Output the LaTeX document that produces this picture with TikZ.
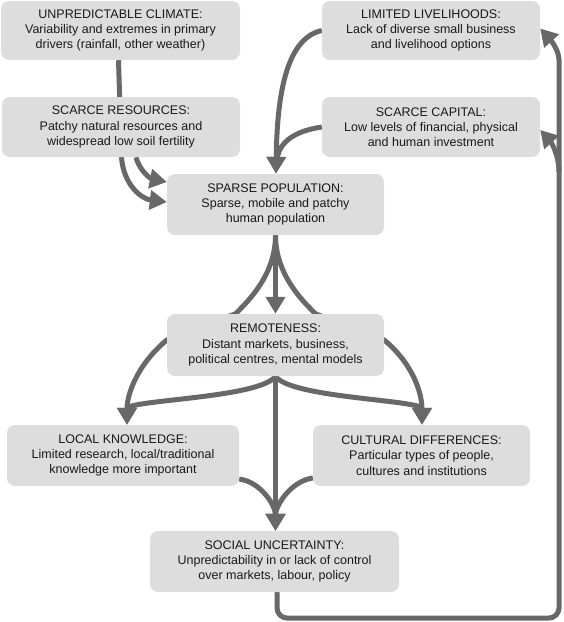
\documentclass[tikz,border=0pt]{standalone}
\usepackage{fontspec}
\setmainfont{Liberation Sans}
\usetikzlibrary{arrows.meta}
\definecolor{boxfill}{RGB}{221,221,221}
\definecolor{arrcol}{RGB}{104,104,104}
\definecolor{txtcol}{RGB}{25,25,25}
\pgfdeclarelayer{bg}
\pgfsetlayers{bg,main}
\begin{document}
\begin{tikzpicture}[x=1pt,y=-1pt,
  box/.style={fill=boxfill, rounded corners=8pt, align=center, inner sep=0pt,
    text=txtcol, font=\fontsize{12.5}{15.3}\selectfont},
  flow/.style={draw=arrcol, line width=5pt, -{Triangle[length=17pt,width=19pt]}},
  link/.style={draw=arrcol, line width=5pt}]
\useasboundingbox (0,0) rectangle (564,622);

\node[box, minimum width=239pt, minimum height=59pt] (climate) at (120.5,30.5)
  {UNPREDICTABLE CLIMATE:\\Variability and extremes in primary\\drivers (rainfall, other weather)};
\node[box, minimum width=238pt, minimum height=60pt] (resources) at (121,127)
  {SCARCE RESOURCES:\\Patchy natural resources and\\widespread low soil fertility};
\node[box, minimum width=218pt, minimum height=59pt] (livelihoods) at (431,30.5)
  {LIMITED LIVELIHOODS:\\Lack of diverse small business\\and livelihood options};
\node[box, minimum width=218pt, minimum height=60pt] (capital) at (431,127)
  {SCARCE CAPITAL:\\Low levels of financial, physical\\and human investment};
\node[box, minimum width=217pt, minimum height=61pt] (sparse) at (275.5,204.5)
  {SPARSE POPULATION:\\Sparse, mobile and patchy\\human population};
\node[box, minimum width=217pt, minimum height=62pt] (remote) at (275.5,345)
  {REMOTENESS:\\Distant markets, business,\\political centres, mental models};
\node[box, minimum width=232pt, minimum height=61pt] (local) at (123,455.5)
  {LOCAL KNOWLEDGE:\\Limited research, local/traditional\\knowledge more important};
\node[box, minimum width=217pt, minimum height=61pt] (cultural) at (421.5,455.5)
  {CULTURAL DIFFERENCES:\\Particular types of people,\\cultures and institutions};
\node[box, minimum width=249pt, minimum height=61pt] (social) at (274.5,561.5)
  {SOCIAL UNCERTAINTY:\\Unpredictability in or lack of control\\over markets, labour, policy};

\coordinate (fbcorner) at (559,618);
\coordinate (fbtop) at (559,70);
\coordinate (fbmid) at (559,172);

\begin{pgfonlayer}{bg}
% climate -> sparse (behind resources)
\draw[flow] ([xshift=-2pt]climate.south) -- ([xshift=1pt]climate.south |- resources.south)
  .. controls +(2,28) and +(-25,-3) .. ([yshift=2.5pt]sparse.west);
% resources -> sparse
\draw[flow] ([xshift=15pt]resources.south)
  .. controls +(4,15) and +(-15,-3) .. ([yshift=22.5pt]sparse.west);
% livelihoods -> sparse
\draw[flow] (livelihoods.west)
  .. controls +(-37,8) and +(1,-74) .. ([xshift=0.5pt]sparse.north);
% capital -> sparse
\draw[link] (capital.west)
  .. controls +(-27,4) and +(2,-18) .. ([xshift=1.5pt,yshift=14pt]sparse.north);
% sparse -> remote
\draw[flow] (sparse.south) -- (remote.north);
% sparse -> local (behind remote)
\draw[flow] (sparse.south) .. controls +(0,40) and +(12,-12) .. ([xshift=-40pt]remote.north)
  -- ([yshift=5pt]remote.west)
  .. controls +(-30,25) and +(0,-30) .. ([xshift=4pt]local.north);
% sparse -> cultural (behind remote)
\draw[flow] (sparse.south) .. controls +(0,40) and +(-12,-12) .. ([xshift=40pt]remote.north)
  -- ([yshift=5pt]remote.east)
  .. controls +(30,25) and +(0,-30) .. ([xshift=0.5pt]cultural.north);
% remote -> local, cultural
\draw[flow] (remote.south) .. controls +(-15,22) and +(0,-25) .. ([xshift=4pt]local.north);
\draw[flow] (remote.south) .. controls +(15,22) and +(0,-25) .. ([xshift=0.5pt]cultural.north);
% remote -> social
\draw[flow] (remote.south) -- (remote.south |- social.north);
% local, cultural -> social
\draw[flow] ([yshift=-23.5pt]local.east) .. controls +(22,3) and +(0,-25) .. (remote.south |- social.north);
\draw[flow] ([yshift=-22.5pt]cultural.west) .. controls +(-22,3) and +(0,-25) .. (remote.south |- social.north);
% feedback
\draw[flow, rounded corners=10pt] ([xshift=2.5pt]social.south) |- (fbcorner) -- (fbtop)
  .. controls +(0,-20) and +(10,11) .. ([yshift=2pt]livelihoods.east);
\draw[flow] (fbmid) .. controls +(0,-18) and +(10,11) .. ([yshift=-3pt]capital.east);
\end{pgfonlayer}
\end{tikzpicture}
\end{document}
